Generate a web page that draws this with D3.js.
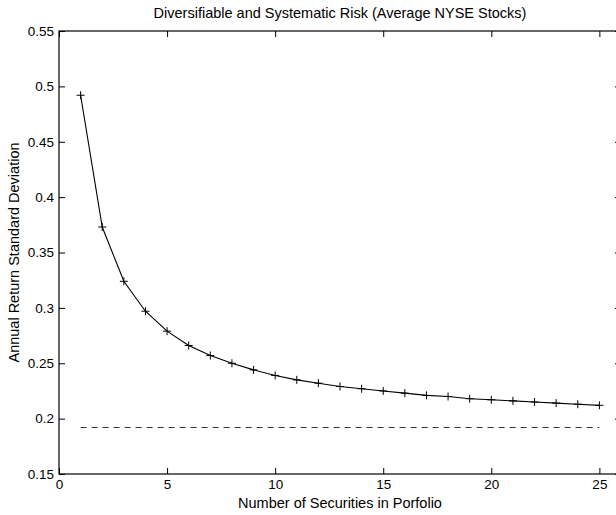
<!DOCTYPE html>
<html><head><meta charset="utf-8">
<script src="https://cdn.jsdelivr.net/npm/d3@7"></script>
<style>body{margin:0;background:#fff}svg{display:block}text{font-family:"Liberation Sans",Arial,sans-serif;fill:#000}</style>
</head><body><svg id="c" width="616" height="515"></svg>
<script>
const securities = [1,2,3,4,5,6,7,8,9,10,11,12,13,14,15,16,17,18,19,20,21,22,23,24,25];
const stdDev = [0.492,0.373,0.324,0.297,0.279,0.266,0.257,0.250,0.244,0.239,0.235,0.232,0.229,0.227,0.225,0.223,0.221,0.220,0.218,0.217,0.216,0.215,0.214,0.213,0.212];
const systematic = 0.192;
const xTicks = [0,5,10,15,20,25];
const yTicks = [0.15,0.2,0.25,0.3,0.35,0.4,0.45,0.5,0.55];
const xDomain = [0,26];
const yDomain = [0.15,0.55];

const L=59, R=621, T=31, B=474;
const svg=d3.select('#c');
const x=d3.scaleLinear().domain(xDomain).range([L,R]);
const y=d3.scaleLinear().domain(yDomain).range([B,T]);
const tl=6;

svg.append('rect').attr('x',L).attr('y',T).attr('width',R-L).attr('height',B-T).attr('fill','none').attr('stroke','#000').attr('stroke-width',1.2);

const gx=svg.append('g').attr('transform',`translate(0,${B})`)
  .call(d3.axisBottom(x).tickValues(xTicks).tickSize(-tl).tickPadding(5).tickFormat(d3.format('d')));
gx.select('.domain').remove();
gx.selectAll('text').attr('font-size',13.5);
const gt=svg.append('g').attr('transform',`translate(0,${T})`)
  .call(d3.axisTop(x).tickValues(xTicks).tickSize(-tl).tickFormat(''));
gt.select('.domain').remove();
const gy=svg.append('g').attr('transform',`translate(${L},0)`)
  .call(d3.axisLeft(y).tickValues(yTicks).tickSize(-tl).tickPadding(5).tickFormat(d=>d3.format('')(+d.toFixed(2))));
gy.select('.domain').remove();
gy.selectAll('text').attr('font-size',13.5);
const gr=svg.append('g').attr('transform',`translate(${R},0)`)
  .call(d3.axisRight(y).tickValues(yTicks).tickSize(-tl).tickFormat(''));
gr.select('.domain').remove();
svg.selectAll('.tick line').attr('stroke','#000');

svg.append('line').attr('x1',x(1)).attr('x2',x(25)).attr('y1',y(systematic)).attr('y2',y(systematic))
  .attr('stroke','#333').attr('stroke-width',1).attr('stroke-dasharray','6,5');

const data=securities.map((s,i)=>({s,v:stdDev[i]}));
svg.append('path').datum(data).attr('fill','none').attr('stroke','#000').attr('stroke-width',1.1)
  .attr('d',d3.line().x(d=>x(d.s)).y(d=>y(d.v)));
svg.append('g').selectAll('path').data(data).join('path')
  .attr('d',d=>`M${x(d.s)-4},${y(d.v)}H${x(d.s)+4}M${x(d.s)},${y(d.v)-4}V${y(d.v)+4}`)
  .attr('stroke','#000').attr('stroke-width',1);

svg.append('text').attr('x',340).attr('y',18).attr('text-anchor','middle').attr('font-size',14.5)
  .text('Diversifiable and Systematic Risk (Average NYSE Stocks)');
svg.append('text').attr('x',340).attr('y',508).attr('text-anchor','middle').attr('font-size',14.5)
  .text('Number of Securities in Porfolio');
svg.append('text').attr('transform',`translate(19,${(T+B)/2}) rotate(-90)`).attr('text-anchor','middle').attr('font-size',14.5)
  .text('Annual Return Standard Deviation');
</script></body></html>
